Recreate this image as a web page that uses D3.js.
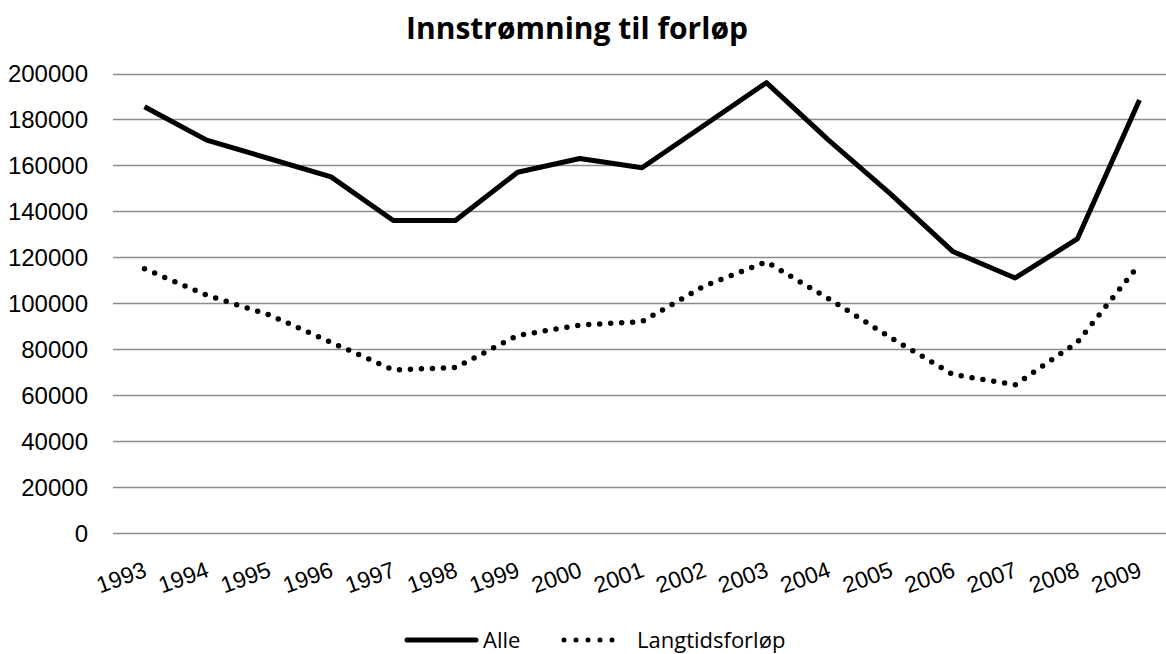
<!DOCTYPE html>
<html>
<head>
<meta charset="utf-8">
<script src="https://cdn.jsdelivr.net/npm/d3@7"></script>
<style>
  body { margin: 0; background: #fff; }
  svg { display: block; font-family: "Open Sans", sans-serif; }
  .grid line { stroke: #8c8c8c; stroke-width: 1.5; }
  .tick text { fill: #000; }
</style>
</head>
<body>
<script>
var width = 1166,
    height = 654;

// data
var years = ["1993", "1994", "1995", "1996", "1997", "1998", "1999", "2000", "2001",
             "2002", "2003", "2004", "2005", "2006", "2007", "2008", "2009"];
var alle = [185500, 171000, 163000, 155000, 136000, 136000, 157000, 163000, 159000,
            177500, 196000, 171000, 147500, 122500, 111000, 128000, 188500];
var langtid = [115000, 103500, 95000, 83000, 71000, 72000, 86000, 90500, 92000,
               107500, 118000, 102000, 85000, 69000, 64500, 83000, 117000];
var yTicks = [0, 20000, 40000, 60000, 80000, 100000, 120000, 140000, 160000, 180000, 200000];
var seriesNames = ["Alle", "Langtidsforløp"];

var svg = d3.select("body").append("svg")
    .attr("width", width)
    .attr("height", height);

var x = d3.scalePoint()
    .domain(years)
    .range([144.5, 1139.5]);

var y = d3.scaleLinear()
    .domain([0, 200000])
    .range([533, 73.5]);

// gridlines
svg.append("g")
    .attr("class", "grid")
    .selectAll("line")
    .data(yTicks)
    .enter().append("line")
    .attr("x1", 113)
    .attr("x2", width)
    .attr("y1", function(d) { return Math.round(y(d)) + 0.5; })
    .attr("y2", function(d) { return Math.round(y(d)) + 0.5; });

// y axis labels
var yAxis = svg.append("g")
    .attr("transform", "translate(88,0)")
    .call(d3.axisLeft(y).tickValues(yTicks).tickSize(0).tickPadding(0).tickFormat(d3.format("d")));
yAxis.select(".domain").remove();
yAxis.selectAll("text").style("font-size", "24px").attr("dy", "0.35em");

// x axis labels, rotated
var xAxis = svg.append("g")
    .attr("transform", "translate(0,533)")
    .call(d3.axisBottom(x).tickSize(0).tickPadding(0));
xAxis.select(".domain").remove();
xAxis.selectAll("text")
    .style("font-size", "23px")
    .style("text-anchor", "end")
    .attr("y", 0)
    .attr("dy", 0)
    .attr("transform", "translate(3,43) rotate(-20)");

var line = d3.line()
    .x(function(d, i) { return x(years[i]); })
    .y(function(d) { return y(d); });

svg.append("path")
    .datum(alle)
    .attr("fill", "none")
    .attr("stroke", "#000")
    .attr("stroke-width", 5)
    .attr("stroke-linejoin", "round")
    .attr("d", line);

svg.append("path")
    .datum(langtid)
    .attr("fill", "none")
    .attr("stroke", "#000")
    .attr("stroke-width", 5.5)
    .attr("stroke-linecap", "round")
    .attr("stroke-dasharray", "0 11")
    .attr("d", line);

// title
svg.append("text")
    .attr("x", 577)
    .attr("y", 39)
    .attr("text-anchor", "middle")
    .style("font-size", "30px")
    .style("font-weight", "bold")
    .text("Innstrømning til forløp");

// legend
var legend = svg.append("g");
legend.append("line")
    .attr("x1", 407).attr("x2", 476)
    .attr("y1", 640).attr("y2", 640)
    .attr("stroke", "#000").attr("stroke-width", 5).attr("stroke-linecap", "round");
legend.append("text")
    .attr("x", 483).attr("y", 640).attr("dy", "0.35em")
    .style("font-size", "22px")
    .text(seriesNames[0]);
legend.append("line")
    .attr("x1", 564).attr("x2", 624)
    .attr("y1", 640).attr("y2", 640)
    .attr("stroke", "#000").attr("stroke-width", 5)
    .attr("stroke-linecap", "round").attr("stroke-dasharray", "0 12");
legend.append("text")
    .attr("x", 637).attr("y", 640).attr("dy", "0.35em")
    .style("font-size", "22px")
    .text(seriesNames[1]);
</script>
</body>
</html>
